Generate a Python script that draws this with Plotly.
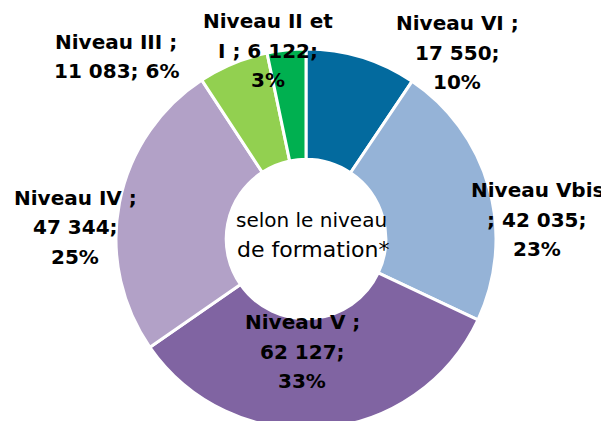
import plotly.graph_objects as go

# ---- data ----
labels = ["Niveau VI", "Niveau Vbis", "Niveau V", "Niveau IV", "Niveau III", "Niveau II et I"]
values = [17550, 42035, 62127, 47344, 11083, 6122]
percents = [10, 23, 33, 25, 6, 3]
colors = ["#036A9E", "#95B3D7", "#8064A2", "#B2A1C7", "#92D050", "#00B050"]
center_lines = ["selon le niveau", "de formation*"]


def num(v):
    return f"{v:,}".replace(",", " ")


label_lines = [
    [f"{labels[0]} ;", f"{num(values[0])};", f"{percents[0]}%"],
    [labels[1], f"; {num(values[1])};", f"{percents[1]}%"],
    [f"{labels[2]} ;", f"{num(values[2])};", f"{percents[2]}%"],
    [f"{labels[3]} ;", f"{num(values[3])};", f"{percents[3]}%"],
    [f"{labels[4]} ;", f"{num(values[4])}; {percents[4]}%"],
    ["Niveau II et", f"I ; {num(values[5])};", f"{percents[5]}%"],
]

# ---- layout helpers (figure coordinates, page has an 8px body margin) ----
W, H = 609, 421
label_pos = [(449, 15), (529, 182), (294, 314), (67, 190), (108, 34), (260, 13)]
line_gap = 29.5
FAMILY = "DejaVu Sans, Noto Sans, sans-serif"

fig = go.Figure()
fig.add_trace(go.Pie(
    labels=labels,
    values=values,
    hole=0.42,
    sort=False,
    direction="clockwise",
    rotation=0,
    marker=dict(colors=colors, line=dict(color="white", width=3)),
    textinfo="none",
    hoverinfo="skip",
    showlegend=False,
    domain=dict(x=[108 / W, 488 / W], y=[0, 380 / H]),
))

annotations = []
font = dict(family=FAMILY, size=20, color="black", weight="bold")
for lines, (cx, cy) in zip(label_lines, label_pos):
    for i, line in enumerate(lines):
        annotations.append(dict(
            x=cx / W, y=1 - (cy + i * line_gap) / H, xref="paper", yref="paper",
            text=line, showarrow=False, xanchor="center", yanchor="middle",
            font=font,
        ))

annotations.append(dict(
    x=303 / W, y=1 - 212 / H, xref="paper", yref="paper", text=center_lines[0],
    showarrow=False, xanchor="center", yanchor="middle",
    font=dict(family=FAMILY, size=20, color="black"),
))
annotations.append(dict(
    x=305 / W, y=1 - 241 / H, xref="paper", yref="paper", text=center_lines[1],
    showarrow=False, xanchor="center", yanchor="middle",
    font=dict(family=FAMILY, size=22, color="black"),
))

fig.update_layout(
    width=W, height=H,
    margin=dict(l=0, r=0, t=0, b=0),
    paper_bgcolor="white", plot_bgcolor="white",
    annotations=annotations,
)

fig.write_html("out.html")
